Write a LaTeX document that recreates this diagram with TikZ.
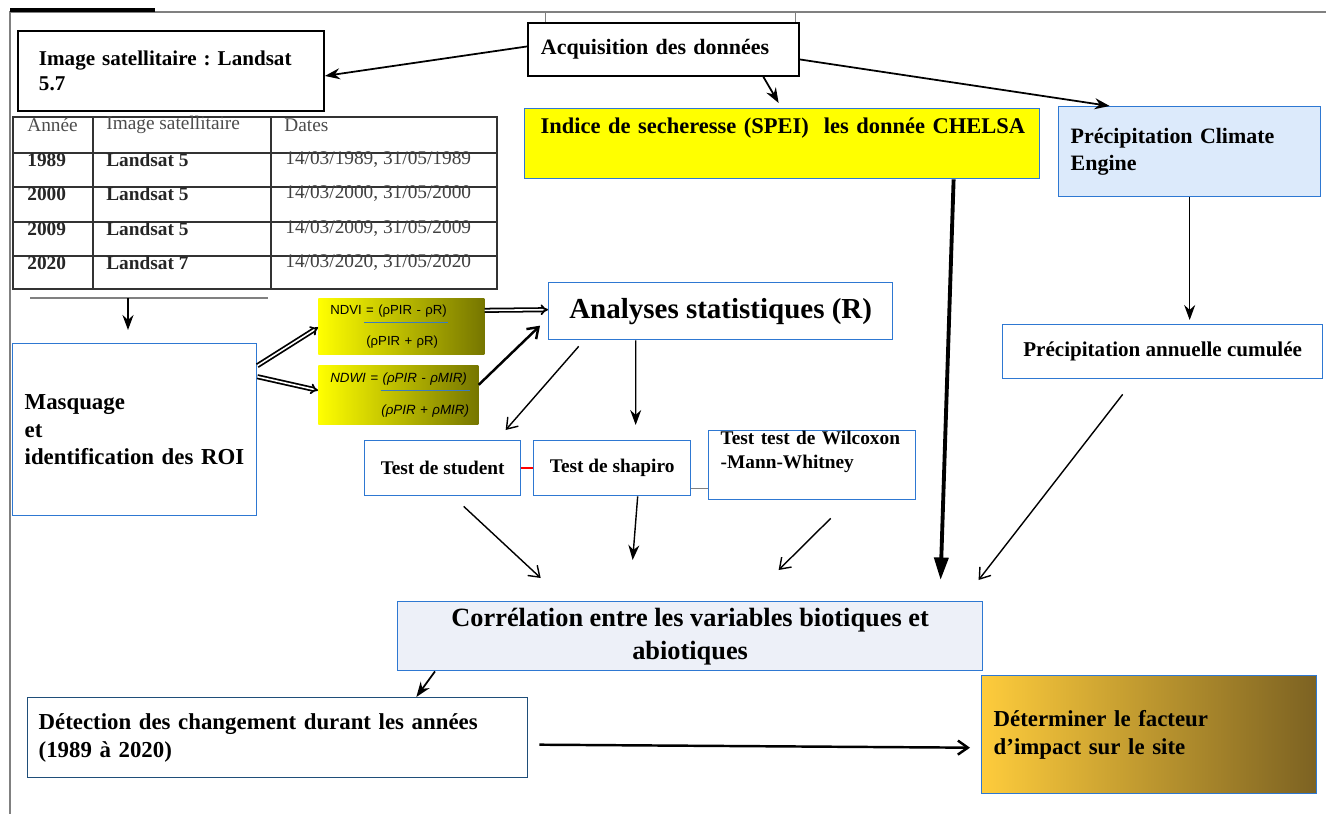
\documentclass[tikz,border=0pt]{standalone}
\usepackage{fontspec}
\setmainfont{Liberation Serif}
\newfontfamily\formfont{Liberation Sans}
\usepackage{xcolor}
\usetikzlibrary{arrows.meta,calc}
\definecolor{EdgeBlue}{HTML}{2E78D2}
\definecolor{DarkEdge}{HTML}{1F4E79}
\definecolor{SkyFill}{HTML}{DCEAFB}
\definecolor{LilacFill}{HTML}{EDF0F8}
\definecolor{Lemon}{HTML}{FFFF00}
\definecolor{OliveTone}{HTML}{767600}
\definecolor{GoldL}{HTML}{FECC3C}
\definecolor{GoldR}{HTML}{7C6222}
\definecolor{FrameGray}{HTML}{808080}
\definecolor{RuleBlue}{HTML}{3A7CC0}
% blue fraction bar laid under the numerator
\newcommand{\fracline}[2][0mm]{\rlap{\hspace*{#1}\color{RuleBlue}\rule[-5pt]{#2}{0.8pt}}}
\tikzset{
  box/.style={draw=EdgeBlue, fill=white, thick, anchor=north west, inner ysep=0pt},
  leftbox/.style={box, align=left},
  midbox/.style={box, align=center},
  blackbox/.style={leftbox, draw=black, line width=1.1pt},
  formbox/.style={anchor=north west, align=left, inner xsep=2.4mm, inner ysep=0pt, left color=Lemon, right color=OliveTone, font=\formfont\fontsize{7.5}{17.5}\selectfont},
  tabrule/.style={line width=1.1pt, draw=black!80},
  tabhead/.style={anchor=west, inner sep=0pt, text=black!70, font=\fontsize{11}{13}\selectfont},
  tabcell/.style={anchor=west, inner sep=0pt, text=black!85, font=\bfseries\fontsize{11}{13}\selectfont},
  tabdate/.style={anchor=west, inner sep=0pt, text=black!75, font=\fontsize{11}{13}\selectfont},
  arrow/.style={-{Stealth[length=3mm,width=2.2mm]}, line width=1pt},
  barb/.style={-{Straight Barb[length=2mm,width=2.8mm]}, line width=0.8pt},
  heavy/.style={-{Triangle[length=4.5mm,width=2.8mm]}, line width=2.2pt},
  twin/.style={double, double distance=0.9pt, line width=1pt, -{Implies}}
}
\begin{document}
\frenchspacing
\begin{tikzpicture}[x=0.02cm, y=-0.02cm]
  \useasboundingbox[fill=white] (0,0) rectangle (1326,814);
  % frame
  \draw[FrameGray, line width=1.2pt] (1326,12) -- (10,12) -- (10,814);
  \draw[line width=2pt] (10,10) -- (155,10);

  \node[blackbox, minimum width=61.2mm, minimum height=16mm, text width=52.8mm, inner xsep=4.2mm, font=\bfseries\fontsize{12}{14.5}\selectfont] (imgsat) at (17,30) {Image satellitaire : Landsat\\5.7};
  \node[blackbox, minimum width=54mm, minimum height=10.6mm, text width=49mm, inner xsep=2.6mm, font=\bfseries\fontsize{12.5}{15}\selectfont] (acq) at (527,22) {Acquisition des données};
  \node[leftbox, fill=Lemon, minimum width=103mm, minimum height=14mm, text width=96.6mm, inner xsep=3.2mm, font=\bfseries\fontsize{12.8}{16}\selectfont] (spei) at (524,108) {\mbox{Indice de secheresse (SPEI)~~les donnée CHELSA}\\\strut};
  \node[leftbox, fill=SkyFill, minimum width=52.4mm, minimum height=18mm, text width=47.6mm, inner xsep=2.4mm, font=\bfseries\fontsize{12.5}{15.5}\selectfont] (clim) at (1058,106) {Précipitation Climate\\Engine};
  \node[midbox, minimum width=64mm, minimum height=10.8mm, font=\bfseries\fontsize{12}{14}\selectfont] (annu) at (1002,324) {Précipitation annuelle cumulée};
  \node[midbox, minimum width=68.8mm, minimum height=11.4mm, font=\bfseries\fontsize{16.5}{19}\selectfont] (stats) at (548,282) {Analyses statistiques (R)};
  \node[leftbox, minimum width=48.8mm, minimum height=34.4mm, text width=44mm, inner xsep=2.4mm, font=\bfseries\fontsize{13}{15.5}\selectfont] (mask) at (12,343) {Masquage\\et\\identification des ROI};
  \node[formbox, minimum width=33.2mm, minimum height=11.2mm, text width=28.4mm] (ndvi) at (318,298) {\mbox{NDVI = \fracline[-2.8mm]{16.8mm}(ρPIR - ρR)}\\\mbox{\hspace*{7.2mm}(ρPIR + ρR)}};
  \node[formbox, minimum width=32mm, minimum height=11.8mm, text width=27.2mm, font=\formfont\itshape\fontsize{7.6}{18}\selectfont] (ndwi) at (318,365) {\mbox{NDWI = \fracline[-0.4mm]{17.8mm}(ρPIR - ρMIR)}\\\mbox{\hspace*{10.2mm}(ρPIR + ρMIR)}};
  \node[midbox, minimum width=31.2mm, minimum height=11mm, font=\bfseries\fontsize{11}{13}\selectfont] (stud) at (364,440) {Test de student};
  \node[midbox, minimum width=31.4mm, minimum height=11mm, font=\bfseries\fontsize{11}{13}\selectfont] (shap) at (533,440) {Test de shapiro};
  \node[leftbox, minimum width=41.4mm, minimum height=13.8mm, text width=36.6mm, inner xsep=2.4mm, font=\bfseries\fontsize{11}{13.5}\selectfont] (wilc) at (708,430) {Test test de Wilcoxon\\-Mann-Whitney\\\strut};
  \node[midbox, fill=LilacFill, minimum width=117mm, minimum height=13.8mm, font=\bfseries\fontsize{15}{18.8}\selectfont] (corr) at (397,601) {Corrélation entre les variables biotiques et\\abiotiques};
  \node[leftbox, draw=DarkEdge, minimum width=100mm, minimum height=16mm, text width=95.6mm, inner xsep=2.2mm, font=\bfseries\fontsize{13}{16}\selectfont] (detect) at (27,697) {Détection des changement durant les années\\(1989 à 2020)};
  \node[leftbox, left color=GoldL, right color=GoldR, minimum width=67mm, minimum height=23.6mm, text width=62.2mm, inner xsep=2.4mm, font=\bfseries\fontsize{13}{16}\selectfont] (impact) at (981,675) {Déterminer le facteur\\d’impact sur le site};

  % table of images
  \draw[tabrule] (13,117) rectangle (497,289);
  \draw[tabrule] (13,153) -- (497,153);
  \draw[tabrule] (13,187) -- (497,187);
  \draw[tabrule] (13,222) -- (497,222);
  \draw[tabrule] (13,256) -- (497,256);
  \draw[tabrule] (93,117) -- (93,289);
  \draw[tabrule] (271,117) -- (271,289);
  \node[tabhead] (hyear) at (27,125) {Année};
  \node[tabhead] (hsat) at (106,125) {Image satellitaire};
  \node[tabhead] (hdate) at (284,125) {Dates};
  \node[tabcell] (y89) at (27,160) {1989};
  \node[tabcell] (s89) at (106,160) {Landsat 5};
  \node[tabdate] (d89) at (285,160) {14/03/1989, 31/05/1989};
  \node[tabcell] (y00) at (27,194) {2000};
  \node[tabcell] (s00) at (106,194) {Landsat 5};
  \node[tabdate] (d00) at (285,194) {14/03/2000, 31/05/2000};
  \node[tabcell] (y09) at (27,229) {2009};
  \node[tabcell] (s09) at (106,229) {Landsat 5};
  \node[tabdate] (d09) at (285,229) {14/03/2009, 31/05/2009};
  \node[tabcell] (y20) at (27,263) {2020};
  \node[tabcell] (s20) at (106,263) {Landsat 7};
  \node[tabdate] (d20) at (285,263) {14/03/2020, 31/05/2020};
  \coordinate (tabfoot) at (128,298);
  \draw[FrameGray, line width=0.8pt] (30,298) -- (268,298);

  \draw[FrameGray] ([xshift=3.6mm]acq.north west) -- ++(0,-10);
  \draw[FrameGray] ([xshift=-1mm]acq.north east) -- ++(0,-10);
  \draw[arrow] ([yshift=0.6mm]acq.west) -- ([yshift=-1mm]imgsat.east);
  \draw[arrow] ([xshift=20mm]acq.south) -- ([xshift=-0.7mm,yshift=1mm]spei.north);
  \draw[arrow] ([yshift=-2mm]acq.east) -- ([xshift=-16mm]clim.north);
  \draw[heavy] ([xshift=34.3mm]spei.south) -- ([xshift=50.1mm,yshift=4.2mm]corr.north);
  \draw[arrow, line width=0.8pt, shorten >=0.8mm] (clim.south) -- (clim.south |- annu.north);
  \draw[barb] ([xshift=-8mm,yshift=-3mm]annu.south) -- ([xshift=57.7mm,yshift=4.2mm]corr.north);
  \draw[arrow, shorten >=2.6mm] (tabfoot) -- (tabfoot |- mask.north);
  \draw[twin] ([yshift=12.8mm]mask.east) -- ([yshift=-0.2mm]ndvi.west);
  \draw[twin] ([yshift=10.6mm]mask.east) -- ([yshift=0.9mm]ndwi.west);
  \draw[twin] ([yshift=3.2mm]ndvi.east) -- ([yshift=0.3mm]stats.west);
  \draw[barb, line width=1.4pt] ([yshift=2mm]ndwi.east) -- ([xshift=-1.6mm,yshift=-2.9mm]stats.west);
  \draw[barb] ([xshift=-28.4mm,yshift=-1.2mm]stats.south) -- ([xshift=12.6mm,yshift=2mm]stud.north);
  \draw[arrow, line width=0.7pt] ([xshift=-17mm]stats.south) -- ([xshift=4.7mm,yshift=3mm]shap.north);
  \draw[red, line width=1.2pt] (stud.east) -- (shap.west);
  \draw[FrameGray] ($(shap.east)+(0,-4.1mm)$) -- ($(shap.east -| wilc.west)+(0,-4.1mm)$);
  \draw[barb] ([xshift=4.2mm,yshift=-2mm]stud.south) -- ([xshift=-29.9mm,yshift=4.6mm]corr.north);
  \draw[arrow, line width=0.8pt] ([xshift=5.1mm]shap.south) -- ([xshift=-11.5mm,yshift=8.2mm]corr.north);
  \draw[barb] ([xshift=3.7mm,yshift=-3.6mm]wilc.south) -- ([xshift=17.7mm,yshift=6.2mm]corr.north);
  \draw[arrow] ([xshift=7.6mm]corr.south west) -- ([xshift=-22.4mm]detect.north east);
  \draw[barb, line width=1.4pt] ([xshift=2.2mm,yshift=-1.4mm]detect.east) -- ([xshift=-2.2mm,yshift=-2.6mm]impact.west);
\end{tikzpicture}
\end{document}
